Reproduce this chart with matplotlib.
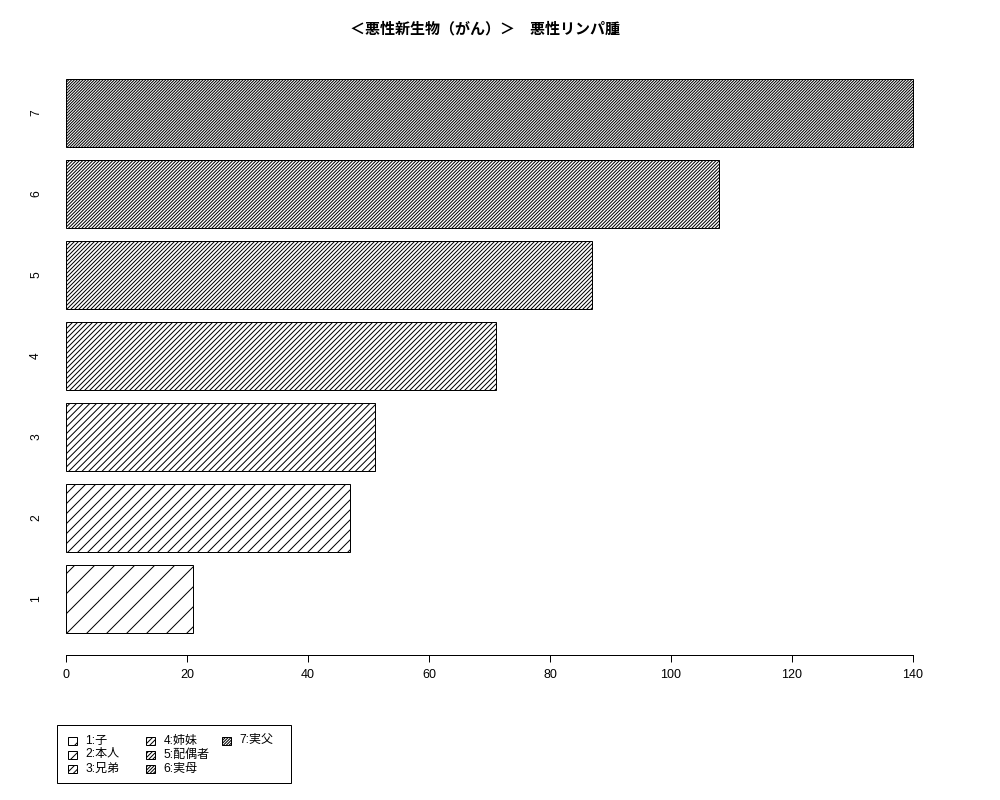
import matplotlib
matplotlib.use("Agg")
import matplotlib.pyplot as plt
import matplotlib.transforms as mtransforms
from matplotlib.patches import Rectangle

# ---- data ----
categories = ["1", "2", "3", "4", "5", "6", "7"]
values = [21, 47, 51, 71, 87, 108, 140]
legend_labels = ["1:子", "2:本人", "3:兄弟", "4:姉妹", "5:配偶者", "6:実母", "7:実父"]
xticks = [0, 20, 40, 60, 80, 100, 120, 140]
title = "＜悪性新生物（がん）＞　悪性リンパ腫"

DPI = 120
PT = 72.0 / DPI  # points per pixel
W, H = 1000, 800

plt.rcParams['font.family'] = ['Liberation Sans', 'Noto Sans CJK JP', 'DejaVu Sans']
plt.rcParams['hatch.linewidth'] = 1.0 * PT
plt.rcParams['hatch.color'] = 'black'

fig = plt.figure(figsize=(W / DPI, H / DPI), dpi=DPI)
fig.patch.set_facecolor('white')

left, right, top, bottom = 23.3, 947.2, 56.8, 655.0
ax = fig.add_axes([left / W, 1 - bottom / H, (right - left) / W, (bottom - top) / H])

width, space = 1.0, 0.2
centers = [space + (width + space) * i + width / 2 for i in range(len(values))]
hatches = ['/' * (2 * (i + 1)) for i in range(len(values))]

for c, v, h in zip(centers, values, hatches):
    ax.barh(c, v, height=width, left=0, color='white', edgecolor='black',
            linewidth=1.0 * PT, hatch=h)

lo = min(-0.01 * max(values), 0)
hi = max(values)
ext = 0.04 * (hi - lo)
ax.set_xlim(lo - ext, hi + ext)
yl, yh = space, centers[-1] + width / 2
yext = 0.04 * (yh - yl)
ax.set_ylim(yl - yext, yh + yext)

for s in ['top', 'right', 'left']:
    ax.spines[s].set_visible(False)
ax.spines['bottom'].set_bounds(xticks[0], xticks[-1])
ax.spines['bottom'].set_linewidth(1.0 * PT)
ax.set_xticks(xticks)
ax.set_xticklabels([str(t) for t in xticks], fontsize=12.5 * PT)
ax.tick_params(axis='x', length=7 * PT, width=1.0 * PT, pad=7 * PT)
ax.set_yticks([])

# y category labels (rotated, as in R barplot)
tr = mtransforms.blended_transform_factory(fig.transFigure, ax.transData)
for c, lab in zip(centers, categories):
    ax.text(36 / W, c, lab, transform=tr, rotation=90, ha='center', va='center',
            fontsize=12 * PT)

# title
fig.text(485 / W, 1 - 29 / H, title, ha='center', va='center',
         fontsize=15 * PT, fontweight='bold')

# legend (R-style, equal column widths)
def fx(x):
    return x / W

def fy(y):
    return 1 - y / H

fig.add_artist(Rectangle((fx(57), fy(783)), (291 - 57) / W, (783 - 725) / H,
                         transform=fig.transFigure, facecolor='white',
                         edgecolor='black', linewidth=1.0 * PT))
col_x = [67.5, 145.5, 221.5]
row_y = [740.5, 754.5, 769]
for i, (lab, h) in enumerate(zip(legend_labels, hatches)):
    col, row = i // 3, i % 3
    px, py = col_x[col], row_y[row]
    fig.add_artist(Rectangle((fx(px), fy(py + 4)), 9 / W, 8 / H,
                             transform=fig.transFigure, facecolor='white',
                             edgecolor='black', linewidth=1.0 * PT, hatch=h))
    fig.text(fx(px + 18), fy(py), lab, ha='left', va='center', fontsize=12 * PT)

fig.savefig("out.png", dpi=DPI, facecolor='white')
